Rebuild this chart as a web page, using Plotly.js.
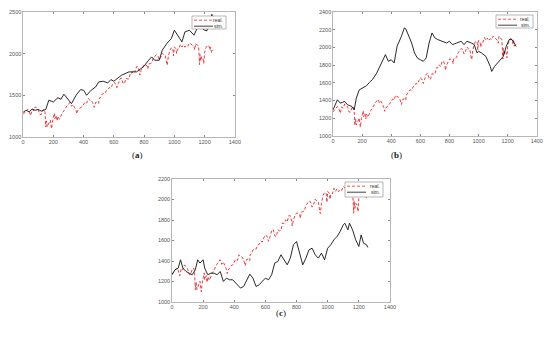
<!DOCTYPE html>
<html><head><meta charset="utf-8">
<script src="https://cdn.plot.ly/plotly-3.0.1.min.js"></script>
<style>html,body{margin:0;padding:0;background:#fff;}#chart{width:550px;height:339px;}</style>
</head><body><div id="chart"></div>
<script>
// Real series (shared by all panels)
const realDays = [0,10,20,30,40,50,60,70,80,90,100,110,120,130,140,145,150,155,160,170,180,185,188,195,200,207,210,220,225,230,240,250,260,270,280,290,300,310,320,330,340,350,355,360,370,380,390,400,410,420,430,440,450,460,470,480,490,500,502,510,520,530,540,550,560,570,580,590,600,610,620,630,640,650,660,670,680,690,700,710,720,730,740,750,760,770,772,780,790,800,810,820,825,830,840,850,860,870,880,890,900,910,920,930,940,950,953,960,970,980,990,995,1000,1010,1015,1020,1030,1040,1050,1060,1070,1080,1090,1100,1110,1120,1130,1135,1140,1150,1160,1164,1166,1167,1170,1175,1180,1185,1190,1195,1200,1210,1220,1230,1235,1240,1245,1250,1257];
const realValues = [1271,1295,1307,1332,1308,1256,1328,1314,1360,1348,1325,1270,1268,1320,1331,1292,1119,1193,1123,1166,1202,1136,1099,1195,1225,1285,1218,1257,1192,1247,1212,1263,1289,1313,1351,1372,1395,1412,1368,1390,1354,1318,1278,1315,1325,1354,1362,1390,1418,1406,1461,1444,1440,1412,1355,1415,1419,1402,1462,1470,1507,1519,1516,1554,1563,1593,1585,1626,1655,1643,1592,1641,1695,1707,1646,1639,1704,1695,1698,1771,1767,1802,1782,1842,1842,1781,1741,1799,1845,1867,1865,1851,1815,1875,1878,1888,1940,1959,1985,1978,1925,1955,2003,1984,1977,1874,1862,1961,2039,2069,2060,1972,2078,2062,2002,2051,2055,2110,2079,2104,2076,2097,2089,2127,2114,2100,2077,2046,2124,2108,2086,1971,1893,1867,1988,1913,1961,1958,1931,1881,2014,2075,2099,2089,2043,2077,2012,2021,2044];

// Simulated series (a)
const simADays = [0,20,40,60,80,100,120,140,150,170,200,230,250,270,300,320,350,380,400,420,450,480,500,530,560,580,600,650,700,750,800,820,850,870,900,920,950,980,1000,1020,1050,1070,1100,1130,1150,1170,1200,1215,1235,1248,1258];
const simAValues = [1295,1320,1300,1335,1320,1330,1310,1325,1330,1440,1420,1470,1452,1512,1440,1400,1500,1568,1560,1500,1560,1600,1660,1668,1648,1688,1668,1740,1780,1780,1848,1900,1960,1920,1920,2040,2120,2180,2280,2220,2140,2260,2280,2220,2300,2320,2280,2272,2380,2470,2420];

// Simulated series (b)
const simBDays = [0,30,50,80,100,130,145,160,180,200,230,250,270,300,330,360,380,400,420,440,470,490,500,520,540,560,580,600,620,640,660,680,700,720,750,780,800,820,850,880,900,920,950,970,990,1000,1020,1050,1080,1090,1110,1140,1170,1190,1210,1230,1250,1258];
const simBValues = [1294,1408,1370,1389,1351,1332,1294,1426,1520,1540,1566,1604,1634,1709,1804,1917,1842,1860,1823,2011,2125,2219,2208,2125,2049,1936,1879,1860,1842,1879,2049,2162,2106,2087,2068,2049,2068,2030,2049,2068,2030,2068,2049,2030,1936,1955,1936,1898,1785,1728,1785,1842,1898,2011,2087,2087,2030,2011];

// Simulated series (c)
const simCDays = [0,20,40,55,70,90,110,130,150,165,180,200,210,230,250,270,290,310,330,350,370,390,410,440,460,480,500,520,540,560,580,600,620,640,660,680,700,720,740,760,780,800,820,840,860,880,900,920,940,960,980,1000,1020,1040,1060,1080,1100,1110,1130,1140,1160,1180,1200,1215,1230,1250,1258];
const simCValues = [1266,1315,1331,1412,1331,1298,1282,1266,1315,1412,1380,1412,1331,1266,1282,1282,1266,1298,1201,1233,1217,1217,1185,1136,1152,1217,1272,1233,1152,1169,1201,1233,1217,1266,1380,1396,1461,1412,1363,1428,1558,1590,1477,1363,1428,1509,1525,1461,1428,1477,1412,1525,1558,1607,1639,1688,1753,1769,1704,1769,1704,1607,1542,1655,1574,1558,1532];

const xTicks = [0,200,400,600,800,1000,1200,1400];
const yTicksA = [1000,1500,2000,2500];
const yTicksB = [1000,1200,1400,1600,1800,2000,2200,2400];
const yTicksC = [1000,1200,1400,1600,1800,2000,2200];
const panelLabels = ['(<b>a</b>)','(<b>b</b>)','(<b>c</b>)'];
const seriesNames = ['real.','sim.'];

const W = 550, H = 339;
const realColor = '#e8282b', simColor = '#111111';
const realStyle = {color:realColor, width:0.9, dash:'3px,2px'};
const simStyle = {color:simColor, width:0.9};

const panels = [
  {xa:'x', ya:'y', sd:simADays, sv:simAValues},
  {xa:'x2', ya:'y2', sd:simBDays, sv:simBValues},
  {xa:'x3', ya:'y3', sd:simCDays, sv:simCValues}
];
const data = [];
panels.forEach(p => {
  data.push({x:realDays, y:realValues, xaxis:p.xa, yaxis:p.ya, name:seriesNames[0], type:'scatter', mode:'lines', line:realStyle, showlegend:false});
  data.push({x:p.sd, y:p.sv, xaxis:p.xa, yaxis:p.ya, name:seriesNames[1], type:'scatter', mode:'lines', line:simStyle, showlegend:false});
});

function xax(dom, anchor){
  return {domain:dom, anchor:anchor, range:[0,1400], tickvals:xTicks, ticks:'inside', ticklen:2, tickcolor:'#888',
    showline:true, mirror:'ticks', linecolor:'#999', linewidth:0.7, showgrid:false, zeroline:false,
    tickfont:{size:5.5, color:'#555', family:'Liberation Sans, Arial, sans-serif'}};
}
function yax(dom, anchor, range, ticks){
  return {domain:dom, anchor:anchor, range:range, tickvals:ticks, ticks:'inside', ticklen:2, tickcolor:'#888',
    showline:true, mirror:'ticks', linecolor:'#999', linewidth:0.7, showgrid:false, zeroline:false,
    tickfont:{size:5.5, color:'#555', family:'Liberation Sans, Arial, sans-serif'}};
}
const px = v => v / W, py = v => 1 - v / H;

// custom compact legends (box pixel positions: left, top, right, bottom)
const legendBoxes = [[192,16,226,29],[496,15,533,28],[345,182,383,197]];
const shapes = [], annotations = [];
legendBoxes.forEach(b => {
  const [l,t,r,bt] = b;
  shapes.push({type:'rect', xref:'paper', yref:'paper', x0:px(l), x1:px(r), y0:py(bt), y1:py(t), fillcolor:'#fff', line:{color:'#888', width:0.6}, layer:'above'});
  const rows = [t + 4.2, t + 10.2];
  const styles = [{color:realColor, width:0.8, dash:'3px,2px'}, {color:simColor, width:0.8}];
  rows.forEach((ry, i) => {
    shapes.push({type:'line', xref:'paper', yref:'paper', x0:px(l+2), x1:px(l+21), y0:py(ry), y1:py(ry), line:styles[i], layer:'above'});
    annotations.push({text:seriesNames[i], xref:'paper', yref:'paper', x:px(r-1), y:py(ry), xanchor:'right', yanchor:'middle', showarrow:false,
      font:{size:5, color:'#333', family:'Liberation Sans, Arial, sans-serif'}});
  });
});
const labFont = {family:'Liberation Serif, DejaVu Serif, serif', size:9, color:'#222'};
annotations.push({text:panelLabels[0], xref:'paper', yref:'paper', x:0.236, y:0.543, showarrow:false, font:labFont});
annotations.push({text:panelLabels[1], xref:'paper', yref:'paper', x:0.735, y:0.543, showarrow:false, font:labFont});
annotations.push({text:panelLabels[2], xref:'paper', yref:'paper', x:0.511, y:0.056, showarrow:false, font:labFont});

const layout = {
  width:W, height:H, margin:{l:0,r:0,t:0,b:0}, paper_bgcolor:'#fff', plot_bgcolor:'#fff', showlegend:false,
  xaxis: xax([0.042,0.427],'y'),
  yaxis: yax([0.596,0.965],'x',[1000,2500],yTicksA),
  xaxis2: xax([0.6055,0.976],'y2'),
  yaxis2: yax([0.599,0.965],'x2',[1000,2400],yTicksB),
  xaxis3: xax([0.3127,0.709],'y3'),
  yaxis3: yax([0.109,0.472],'x3',[1000,2200],yTicksC),
  shapes: shapes,
  annotations: annotations
};
Plotly.newPlot('chart', data, layout, {staticPlot:true, displayModeBar:false});
</script></body></html>
